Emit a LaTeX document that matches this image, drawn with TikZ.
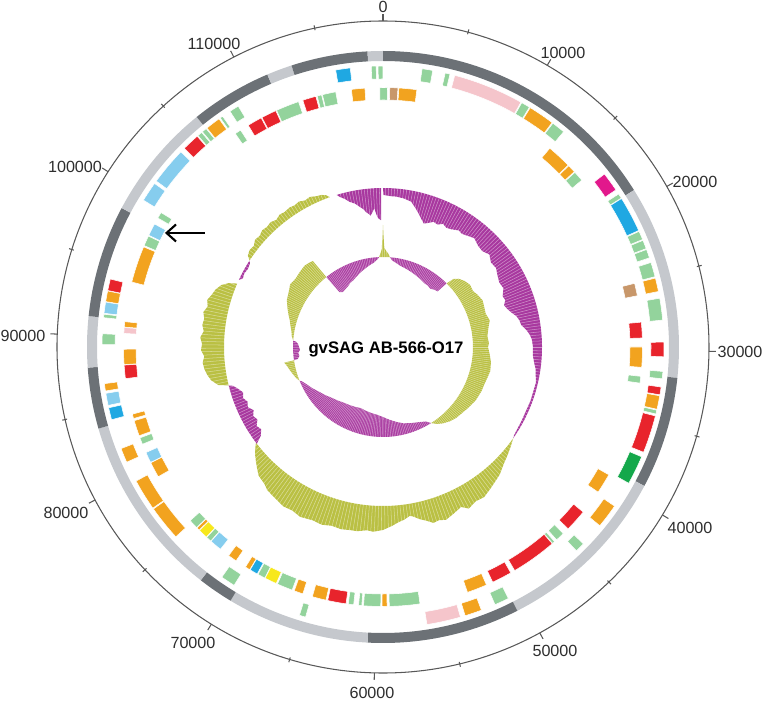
\documentclass[tikz,border=0pt]{standalone}
\usepackage{fontspec}
\setsansfont{Liberation Sans}
\usepackage{tikz}
\usetikzlibrary{arrows.meta}

\definecolor{bandDark}{HTML}{6C7176}
\definecolor{bandLight}{HTML}{C5C8CD}
\definecolor{gRed}{HTML}{E8242C}
\definecolor{gOrange}{HTML}{F2A31F}
\definecolor{gLgreen}{HTML}{93D39C}
\definecolor{gLblue}{HTML}{86CDEE}
\definecolor{gBlue}{HTML}{1FA8E2}
\definecolor{gPink}{HTML}{F5C5CB}
\definecolor{gMagenta}{HTML}{E2188C}
\definecolor{gBrown}{HTML}{C8976A}
\definecolor{gYellow}{HTML}{F7E81C}
\definecolor{gDkgreen}{HTML}{14A84B}
\definecolor{gcPurple}{HTML}{A8389F}
\definecolor{gcOlive}{HTML}{BAC043}
\definecolor{tickGray}{HTML}{2E2E2E}

% annular box: inner r, outer r, start and end position (degrees clockwise from top), style
\newcommand{\arcbox}[5]{%
  \fill[#5] ({90-(#3)}:#1) arc[start angle={90-(#3)}, end angle={90-(#4)}, radius=#1]
    -- ({90-(#4)}:#2) arc[start angle={90-(#4)}, end angle={90-(#3)}, radius=#2] -- cycle;}
% plot around a baseline: colour, baseline, + or -, first and last position, list pos/value
\newcommand{\plotfill}[6]{%
  \fill[#1] ({90-(#4)}:#2) \foreach \ang/\dep in {#6} { -- ({90-(\ang)}:{#2#3(\dep)}) }
    -- ({90-(#5)}:#2) arc[start angle={90-(#5)}, end angle={90-(#4)}, radius=#2] -- cycle;}

\begin{document}
\begin{tikzpicture}[scale=0.02,
    ticklabel/.style={font=\sffamily\fontsize{9.2}{11}\selectfont, text=tickGray, inner sep=0pt},
    tickline/.style={draw=tickGray!80, line width=0.6pt},
    genebox/.style={draw=white, line width=0.3pt},
    hatch/.style={draw=white, line width=0.3pt, opacity=0.45},
    pointer/.style={-{Straight Barb[length=1.9mm,width=3.4mm]}, line width=1.2pt, black}
]
    \useasboundingbox (-383,-355) rectangle (384,347);

    % scale circle and ticks
    \draw[tickline] (0,0) circle[radius=326];
    \foreach \k in {0,...,11} {
        \pgfmathsetmacro{\phi}{90-\k*30.2521}
        \pgfmathsetmacro{\phim}{90-(\k+0.5)*30.2521}
        \draw[tickline] (\phi:326) -- (\phi:333);
        \draw[tickline] (\phim:324) -- (\phim:329);
    }
    \foreach \k/\lab/\lx/\ly in {0/0/0/340,1/10000/180/294,2/20000/312/165,3/30000/357/-5,
        4/40000/307/-181,5/50000/172/-304,6/60000/-11/-346,7/70000/-190/-296,
        8/80000/-317/-166,9/90000/-360/11,10/100000/-308/180,11/110000/-169/303}
        \node[ticklabel] (lab\k) at (\lx,\ly) {\lab};

    % contig band
    \foreach \s/\e/\c in {0/58/bandDark,58/96/bandLight,96/118/bandDark,118/153/bandLight,
        153/183/bandDark,183/211/bandLight,211/218/bandDark,218/254/bandLight,
        254/266/bandDark,266/276/bandLight,276/298/bandDark,298/321/bandLight,
        321/337/bandDark,337/342/bandLight,342/357/bandDark,357/360/bandLight}
        \arcbox{286}{296}{\s}{\e}{fill=\c};

    % outer gene ring
    \foreach \s/\e/\c in {8/10.2/gLgreen,12.8/13.8/gLgreen,14.8/29.4/gPink,29.6/31.4/gLgreen,
        31.6/37/gOrange,37.2/40/gLgreen,52/56/gMagenta,57/58/gLgreen,58.1/65.5/gBlue,
        65.7/67.5/gLgreen,67.7/69.5/gLgreen,69.7/71.5/gLgreen,72.5/75.5/gLgreen,
        75.8/78.6/gOrange,80/84.5/gLgreen,89/92/gRed,95/96.5/gLgreen,98.2/99.8/gRed,
        100/102.8/gOrange,103/103.8/gLgreen,104.2/112/gRed,113/119/gDkgreen,
        124.5/129.5/gOrange,134.5/136.5/gLgreen,153.5/156.5/gLgreen,159.5/163/gOrange,
        164/171/gPink,196/197.3/gLgreen,212/215/gLgreen,227.5/234.8/gOrange,
        235/241.5/gOrange,245.8/248.8/gOrange,255/257.5/gBlue,258/260.5/gLblue,
        261/262.5/gOrange,270.5/272.7/gLgreen,276/276.7/gLgreen,276.9/279.2/gLblue,
        279.3/281.5/gOrange,281.6/284/gRed,301.5/305.6/gLblue,306.2/314/gLblue,
        315/318.6/gRed,318.8/319.8/gLgreen,320/321/gLgreen,321.2/324.3/gOrange,
        324.6/325.2/gLgreen,327/329/gLgreen,350.3/353.3/gBlue,357.6/358.6/gLgreen,
        359/360/gLgreen}
        \arcbox{268}{281}{\s}{\e}{genebox, fill=\c};

    % inner gene ring
    \foreach \s/\e/\c in {-0.7/1/gLgreen,1.5/3.3/gBrown,3.5/7.5/gOrange,40/45.5/gOrange,
        45.7/47.5/gOrange,47.7/50/gLgreen,75.8/78.6/gBrown,84.5/88/gRed,90/94.5/gOrange,
        96.5/98/gLgreen,119.5/124/gOrange,129.5/134.5/gRed,136/138/gLgreen,
        138.6/139.2/gLgreen,139.3/149.5/gRed,150.5/155/gRed,156.5/161/gOrange,
        171.8/178.6/gLgreen,179.1/180.2/gOrange,180.5/184.3/gLgreen,184.7/185.4/gLgreen,
        186.5/187.7/gLgreen,188.2/192.3/gRed,192.7/195.8/gOrange,198/200/gOrange,
        200.5/204/gLgreen,204.3/207/gYellow,207.1/208.8/gLgreen,209/210.8/gBlue,
        210.9/212/gOrange,214.5/216.5/gOrange,218.8/221.5/gLblue,221.6/222.8/gLgreen,
        222.9/225/gYellow,225.1/225.8/gOrange,225.9/228/gLgreen,240/243.5/gOrange,
        243.6/246/gLblue,248/249.5/gLgreen,250/253.5/gOrange,254/255/gOrange,
        263/266/gRed,266.1/269.5/gOrange,273/274.3/gPink,274.4/275.6/gOrange,
        284.5/292.7/gOrange,293/295.3/gLgreen,295.5/298.3/gLblue,299.8/301.2/gLgreen,
        325.3/326.7/gLgreen,328.7/332/gRed,332.2/335.6/gRed,335.8/341/gLgreen,
        342/345/gRed,345.3/346.3/gLgreen,346.5/349.5/gLgreen,353/356/gOrange}
        \arcbox{247}{259.5}{\s}{\e}{genebox, fill=\c};

    % GC content
    \plotfill{gcPurple}{159}{-}{-17}{-0.7}{-16/3,-14.5/6,-13/10,-11/13,-9.4/17,-8/20,-7.2/23,
        -6.2/25,-5.4/27,-4.5/24,-3.6/20,-2.9/26,-2.2/30,-1.6/31,-1.1/32,-0.8/32}
    \plotfill{gcPurple}{159}{-}{0}{125}{0.2/7,3/8,5/8,8/9,11/11,13/16,14.6/20,16.5/25,18.3/29,
        20/27,22/24,24/25,26/22,28/24,30/23,33/20,35/21,37.6/19,40/17,43/20,46/21,49/18,52/22,
        55/21,58/24,61/26,64/25,67/29,69/28,71/31,73/29,75/26,77/22,79/20,81/19,83/15,85/12,
        87/10,90/9,93/9,96/7,98/5,100/4,103/2,110/2,118/2,124/1}
    \plotfill{gcOlive}{159}{+}{125}{233}{128/3,131/6,134/9,137.6/14,140/16,143/19,146/22,
        149/21,152/24,154/19,157/22,160/25,162/23,164/24,166/20,168/17,170/13,171/12,173/15,
        175/17,177/20,180/24,183/26,185/25,188/27,190/27,193/28,196/27,199/29,202/28,206/30,
        209/28,212/29,215/27,217/26,219/25,221/22,224/20,226/16,228/12,230/8,232/3}
    \plotfill{gcPurple}{159}{-}{232.5}{256}{234/8,236/12,238/10,240/14,242/12,244/15,246/11,
        248/13,250/10,252/12,254/8,255.5/4}
    \plotfill{gcOlive}{159}{+}{256}{293.5}{257/10,259/16,261/19,263/21,265/22,267/20,269/23,
        271/22,273/24,275/21,277/23,279/22,281/24,283/21,285/23,287/20,289/18,291/14,292.5/8}
    \plotfill{gcPurple}{159}{-}{295}{303}{296/3,298/2,300/3,302/2}
    \plotfill{gcOlive}{159}{+}{303}{340.5}{304/4,306/6,308/5,310/8,312/7,314/9,316/8,
        318/9,320/7,322/9,324/8,326/9,328/8,330/9,332/7,334/8,336/6,338/5,339.5/3}

    % GC skew
    \plotfill{gcPurple}{90}{-}{321}{357.5}{321.5/20,324/22,327/21,330/20,333/18,336/17,339/15,
        342/13,345/11,348/9,351/7,354/5,356.5/2}
    \plotfill{gcOlive}{90}{+}{357.5}{364.5}{358.5/4,359.3/8,359.7/20,360/32,360.3/20,
        360.8/9,362/6,363.5/3}
    \plotfill{gcPurple}{90}{-}{4.5}{45}{6/3,9/5,12/7,15/8,18/9,21/10,24/11,27/12,30/13,33/14,
        36/14,39/15,42/13,44.5/12}
    \plotfill{gcOlive}{90}{+}{45}{147.7}{46/8,48/12,51/15,54.5/17,58/16,61/18,64.8/20,68/19,
        72/18,76/20,80/17,84/15,88/16,90/15,94/17,98/19,102.6/20,106/19,110/18,114/18,120/17,
        125/15,130/13,134/12,138/10,142/7,145/4}
    \plotfill{gcPurple}{90}{-}{147.7}{248}{150/4,155/7,160/9,165/11,170/14,175/17,180/20,
        185/22,190/23,195/24,200/25,205/24,210/23,215/22,220/20,225/18,230/15,235/12,240/8,
        244/5,247/2}
    \plotfill{gcOlive}{90}{+}{248}{261.5}{250/2,253/4,256/6,259/8,261/10}
    \plotfill{gcPurple}{90}{-}{261.5}{274}{262/4,264/6,266/5,268/7,270/6,272/5,273.5/3}
    \plotfill{gcOlive}{90}{+}{274}{321}{277/2,280/3,283/5,286/7,289/10,292/13,296/17,300/19,
        304/22,308/21,312/22,316/23,319/22,320.8/21}

    % radial hatching of the plots
    \foreach \a in {0,1.1,...,359} {
        \draw[hatch] (\a:62) -- (\a:124);
        \draw[hatch] (\a:126) -- (\a:192);
    }

    % title
    \node[font=\sffamily\bfseries\fontsize{9.5}{11}\selectfont, anchor=base] (title) at (3,-7)
        {gvSAG AB-566-O17};

    % arrow to the marked gene
    \coordinate (arrowtail) at (-178,114);
    \coordinate (arrowtip) at (-218,114);
    \draw[pointer] (arrowtail) -- (arrowtip);
\end{tikzpicture}
\end{document}
